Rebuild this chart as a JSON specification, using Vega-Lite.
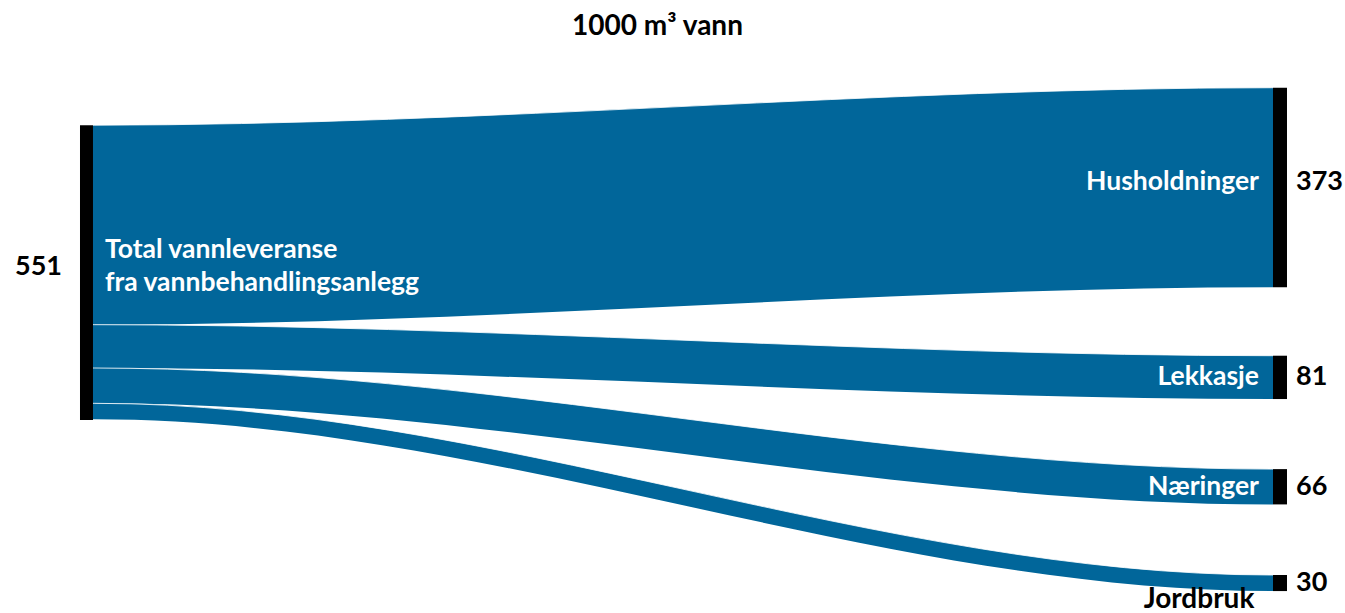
{
  "$schema": "https://vega.github.io/schema/vega-lite/v6.json",
  "width": 1345,
  "height": 613,
  "padding": 0,
  "autosize": {"type": "none"},
  "background": "white",
  "config": {"view": {"stroke": null}, "font": "Lato"},
  "title": {"text": "1000 m³ vann", "anchor": "middle", "orient": "top", "offset": -35, "baseline": "alphabetic", "dx": -15, "dy": 28, "font": "Lato", "fontSize": 28, "fontWeight": "bold", "color": "black"},
  "datasets": {
    "flows": [
      {"flow": "Husholdninger", "stage": 0, "y0": 234, "y1": 607},
      {"flow": "Husholdninger", "stage": 0.001, "y0": 234, "y1": 607},
      {"flow": "Husholdninger", "stage": 0.999, "y0": 164, "y1": 537},
      {"flow": "Husholdninger", "stage": 1, "y0": 164, "y1": 537},
      {"flow": "Lekkasje", "stage": 0, "y0": 607, "y1": 688},
      {"flow": "Lekkasje", "stage": 0.001, "y0": 607, "y1": 688},
      {"flow": "Lekkasje", "stage": 0.999, "y0": 665, "y1": 746},
      {"flow": "Lekkasje", "stage": 1, "y0": 665, "y1": 746},
      {"flow": "Næringer", "stage": 0, "y0": 688, "y1": 754},
      {"flow": "Næringer", "stage": 0.001, "y0": 688, "y1": 754},
      {"flow": "Næringer", "stage": 0.999, "y0": 877, "y1": 943},
      {"flow": "Næringer", "stage": 1, "y0": 877, "y1": 943},
      {"flow": "Jordbruk", "stage": 0, "y0": 754, "y1": 784},
      {"flow": "Jordbruk", "stage": 0.001, "y0": 754, "y1": 784},
      {"flow": "Jordbruk", "stage": 0.999, "y0": 1075, "y1": 1105},
      {"flow": "Jordbruk", "stage": 1, "y0": 1075, "y1": 1105}
    ],
    "nodes": [
      {"node": "Total vannleveranse\nfra vannbehandlingsanlegg", "stage": 0, "y0": 234, "y1": 785, "amount": 551},
      {"node": "Husholdninger", "stage": 1, "y0": 164, "y1": 537, "amount": 373},
      {"node": "Lekkasje", "stage": 1, "y0": 665, "y1": 746, "amount": 81},
      {"node": "Næringer", "stage": 1, "y0": 877, "y1": 943, "amount": 66},
      {"node": "Jordbruk", "stage": 1, "y0": 1075, "y1": 1105, "amount": 30}
    ]
  },
  "encoding": {
    "x": {"field": "stage", "type": "quantitative", "scale": {"domain": [-0.07881, 1.06102], "nice": false, "zero": false}, "axis": null}
  },
  "layer": [
    {
      "data": {"name": "flows"},
      "mark": {"type": "area", "interpolate": "monotone", "color": "#01669a"},
      "encoding": {
        "y": {"field": "y0", "type": "quantitative", "scale": {"domain": [0, 1146], "reverse": true, "nice": false, "zero": false}, "axis": null},
        "y2": {"field": "y1"},
        "detail": {"field": "flow"}
      }
    },
    {
      "data": {"name": "flows"},
      "mark": {"type": "line", "interpolate": "monotone", "color": "white", "strokeWidth": 1, "opacity": 0.8},
      "encoding": {
        "y": {"field": "y0", "type": "quantitative"},
        "detail": {"field": "flow"}
      }
    },
    {
      "data": {"name": "nodes"},
      "transform": [{"filter": "datum.stage == 0"}],
      "mark": {"type": "rule", "color": "black", "strokeWidth": 13, "xOffset": -6.5},
      "encoding": {
        "y": {"field": "y0", "type": "quantitative"},
        "y2": {"field": "y1"}
      }
    },
    {
      "data": {"name": "nodes"},
      "transform": [{"filter": "datum.stage == 1"}],
      "mark": {"type": "rule", "color": "black", "strokeWidth": 14, "xOffset": 7},
      "encoding": {
        "y": {"field": "y0", "type": "quantitative"},
        "y2": {"field": "y1"}
      }
    },
    {
      "data": {"name": "nodes"},
      "transform": [
        {"filter": "datum.stage == 0"},
        {"fold": ["y0", "y1"], "as": ["edge", "pos"]}
      ],
      "layer": [
        {
          "mark": {"type": "text", "align": "right", "baseline": "middle", "dx": -31, "dy": -6, "fontSize": 27, "fontWeight": "bold", "color": "black"},
          "encoding": {
            "y": {"aggregate": "mean", "field": "pos", "type": "quantitative"},
            "text": {"field": "amount", "type": "nominal"}
          }
        },
        {
          "mark": {"type": "text", "align": "left", "baseline": "middle", "dx": 12, "dy": -23, "fontSize": 26.5, "fontWeight": "bold", "color": "white", "lineBreak": "\n", "lineHeight": 33},
          "encoding": {
            "y": {"aggregate": "mean", "field": "pos", "type": "quantitative"},
            "text": {"field": "node", "type": "nominal"}
          }
        }
      ]
    },
    {
      "data": {"name": "nodes"},
      "transform": [
        {"filter": "datum.stage == 1 && datum.node == 'Husholdninger'"},
        {"fold": ["y0", "y1"], "as": ["edge", "pos"]}
      ],
      "layer": [
        {
          "mark": {"type": "text", "align": "right", "baseline": "middle", "dx": -14, "dy": -5, "fontSize": 26.5, "fontWeight": "bold", "color": "white"},
          "encoding": {
            "y": {"aggregate": "mean", "field": "pos", "type": "quantitative"},
            "text": {"field": "node", "type": "nominal"}
          }
        },
        {
          "mark": {"type": "text", "align": "left", "baseline": "middle", "dx": 23, "dy": -5, "fontSize": 27, "fontWeight": "bold", "color": "black"},
          "encoding": {
            "y": {"aggregate": "mean", "field": "pos", "type": "quantitative"},
            "text": {"field": "amount", "type": "nominal"}
          }
        }
      ]
    },
    {
      "data": {"name": "nodes"},
      "transform": [
        {"filter": "datum.stage == 1 && datum.node != 'Husholdninger'"},
        {"fold": ["y0", "y1"], "as": ["edge", "pos"]}
      ],
      "layer": [
        {
          "transform": [{"filter": "datum.node != 'Jordbruk'"}],
          "mark": {"type": "text", "align": "right", "baseline": "middle", "dx": -14, "fontSize": 26.5, "fontWeight": "bold", "color": "white"},
          "encoding": {
            "y": {"aggregate": "mean", "field": "pos", "type": "quantitative"},
            "text": {"field": "node", "type": "nominal"}
          }
        },
        {
          "mark": {"type": "text", "align": "left", "baseline": "middle", "dx": 23, "fontSize": 27, "fontWeight": "bold", "color": "black"},
          "encoding": {
            "y": {"aggregate": "mean", "field": "pos", "type": "quantitative"},
            "text": {"field": "amount", "type": "nominal"}
          }
        }
      ]
    },
    {
      "data": {"name": "nodes"},
      "transform": [{"filter": "datum.node == 'Jordbruk'"}],
      "mark": {"type": "text", "align": "center", "baseline": "alphabetic", "dx": -74, "dy": 17, "fontSize": 28, "fontWeight": "bold", "color": "black"},
      "encoding": {
        "y": {"field": "y1", "type": "quantitative"},
        "text": {"field": "node", "type": "nominal"}
      }
    }
  ]
}
